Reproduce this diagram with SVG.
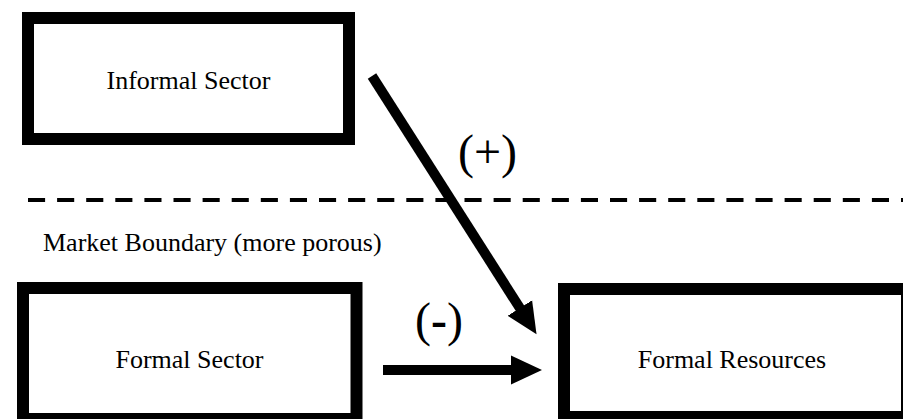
<svg xmlns="http://www.w3.org/2000/svg" width="903" height="419" viewBox="0 0 903 419">
<style>
.box{fill:#fff;stroke:#000;stroke-width:12}
.lbl{font-size:26px;fill:#000}
.sign{font-size:48px;fill:#000}
.arr{stroke:#000;stroke-width:10;fill:none}
</style>
<defs>
<marker id="head" markerUnits="userSpaceOnUse" markerWidth="32" markerHeight="30" viewBox="0 -15 32 30" refX="1" refY="0" orient="auto">
<path d="M0,-14.5 L31,0 L0,14.5 z" fill="#000"/>
</marker>
</defs>
<rect width="903" height="419" fill="#fff"/>
<g font-family="'Liberation Serif', 'DejaVu Serif', serif">
<line x1="28" y1="200" x2="903" y2="200" stroke="#000" stroke-width="4" stroke-dasharray="17.1 12"/>
<text class="lbl" x="43" y="251">Market Boundary (more porous)</text>
<g id="informal">
<rect class="box" x="28" y="18" width="321" height="121"/>
<text class="lbl" x="188.5" y="89" text-anchor="middle">Informal Sector</text>
</g>
<g id="formal-sector">
<rect class="box" x="23" y="288" width="333.5" height="131"/>
<text class="lbl" x="189.5" y="368" text-anchor="middle">Formal Sector</text>
</g>
<g id="formal-resources">
<rect class="box" x="564" y="289" width="343" height="128"/>
<text class="lbl" x="732" y="368" text-anchor="middle">Formal Resources</text>
</g>
<g id="connectors">
<line class="arr" x1="372" y1="76" x2="520.4" y2="308.9" marker-end="url(#head)"/>
<line class="arr" x1="383" y1="370" x2="512" y2="370" marker-end="url(#head)"/>
<text class="sign" x="487.5" y="168" text-anchor="middle">(+)</text>
<text class="sign" x="439" y="336" text-anchor="middle">(<tspan font-weight="bold">-</tspan>)</text>
</g>
</g>
</svg>
